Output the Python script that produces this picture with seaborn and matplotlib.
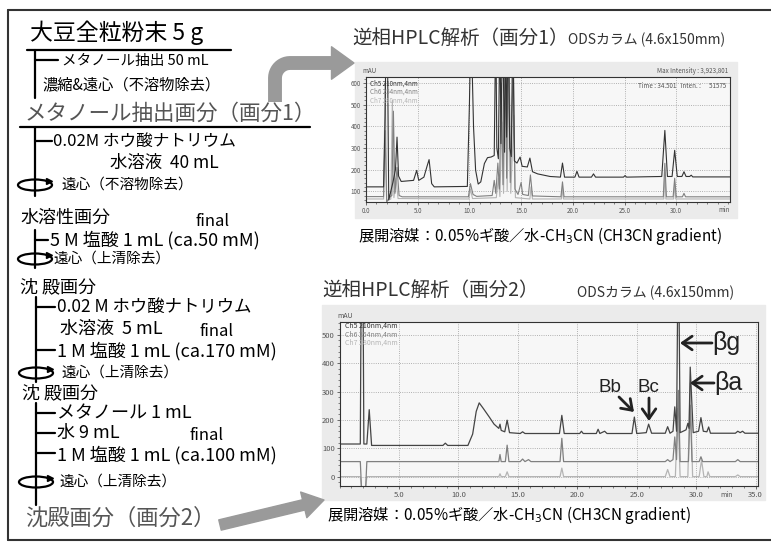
import numpy as np
import matplotlib
matplotlib.use("Agg")
import matplotlib.pyplot as plt
from matplotlib.patches import Rectangle, Ellipse
from matplotlib.ticker import MultipleLocator, FixedLocator, FixedFormatter
import seaborn as sns

# ---- HPLC of fraction 1 : retention time (min) / absorbance (mAU)
top_ch5_t = [0.0, 1.7, 1.85, 1.95, 2.05, 2.2, 2.6, 2.85, 3.0, 3.15, 3.4, 4.6, 4.9, 5.1, 5.6, 5.9, 6.1,
             6.35, 6.6, 9.8, 10.0, 10.15, 10.4, 10.6, 10.85, 11.1, 11.45, 11.75, 12.1, 12.4, 12.55,
             12.65, 12.8, 12.95, 13.05, 13.2, 13.4, 13.5, 13.6, 13.75, 13.9, 14.05, 14.2, 14.35, 14.6,
             14.9, 15.1, 15.6, 15.85, 16.1, 16.6, 17.8, 18.8, 19.0, 19.2, 20.2, 20.4, 20.6, 21.8, 22.0,
             22.2, 24.9, 25.05, 25.2, 28.6, 28.9, 29.15, 29.6, 29.85, 30.1, 30.55, 30.75, 30.95, 31.3,
             31.45, 31.6, 35.2]
top_ch5_y = [120, 120, 450, 900, 900, 60, 140, 200, 350, 170, 145, 150, 196, 150, 165, 215, 246,
             135, 120, 122, 500, 900, 396, 197, 133, 143, 228, 255, 258, 265, 900,
             300, 250, 900, 320, 900, 280, 900, 350, 900, 300, 260, 900, 240, 230,
             258, 215, 212, 253, 190, 180, 168, 165, 230, 165, 165, 192, 165, 165, 180,
             165, 165, 172, 165, 168, 381, 168, 168, 289, 168, 168, 190, 168, 168,
             174, 166, 166]
top_ch6_t = [0.0, 1.7, 1.85, 2.0, 2.3, 2.5, 2.65, 2.8, 3.0, 3.2, 3.5, 9.9, 10.1, 10.35, 10.7, 12.2,
             12.4, 12.55, 12.75, 12.9, 13.1, 13.25, 13.45, 13.6, 13.8, 13.95, 14.25, 14.4, 14.7, 15.0,
             15.15, 15.7, 15.9, 16.1, 18.85, 19.0, 19.15, 28.75, 28.9, 29.05, 29.7, 29.85, 30.0, 30.6,
             30.75, 30.9, 35.2]
top_ch6_y = [75, 75, 380, 50, 72, 80, 470, 90, 210, 80, 74, 74, 135, 85, 76, 80,
             150, 90, 230, 110, 600, 130, 900, 160, 900, 140, 700, 110, 85, 140,
             85, 80, 175, 78, 74, 143, 74, 74, 229, 74, 74, 160, 74, 74,
             90, 74, 74]
top_ch7_t = [0.0, 1.7, 1.85, 2.0, 2.4, 2.55, 2.7, 2.9, 3.1, 9.95, 10.1, 10.3, 12.6, 12.8, 12.95,
             13.15, 13.3, 13.5, 13.65, 13.85, 14.0, 14.3, 14.45, 15.85, 15.95, 16.1, 18.9, 19.0, 19.1,
             28.8, 28.9, 29.0, 29.75, 29.85, 29.95, 35.2]
top_ch7_y = [64, 64, 600, 55, 64, 520, 70, 160, 66, 64, 110, 66, 70, 160, 75,
             420, 90, 650, 100, 700, 90, 450, 70, 64, 120, 64, 64, 115, 64,
             64, 190, 64, 64, 140, 64, 64]

# ---- HPLC of fraction 2
bot_ch5_t = [0.0, 1.75, 1.85, 1.95, 2.05, 2.3, 2.5, 2.7, 8.7, 8.9, 9.1, 10.8, 11.2, 11.5, 11.75,
             12.1, 12.6, 13.0, 13.4, 13.5, 13.6, 13.9, 14.1, 14.3, 15.2, 15.4, 15.6, 18.5, 18.7, 18.9,
             20.2, 20.35, 20.5, 21.6, 21.75, 21.9, 22.3, 22.5, 24.6, 24.8, 25.0, 25.8, 26.0, 26.25,
             27.4, 27.6, 27.8, 28.05, 28.2, 28.35, 28.5, 28.65, 29.15, 29.3, 29.4, 29.5, 29.75, 30.2,
             30.4, 30.6, 30.9, 31.05, 31.2, 33.3, 33.5, 33.7, 33.9, 34.1, 35.2]
bot_ch5_y = [115, 115, 900, 900, 115, 115, 236, 110, 110, 118, 110, 110, 150, 230, 260,
             240, 210, 185, 170, 185, 163, 158, 199, 155, 152, 158, 152, 152, 216, 152,
             152, 160, 152, 152, 167, 152, 160, 152, 152, 210, 152, 155, 185, 153,
             153, 176, 153, 160, 246, 160, 900, 155, 165, 188, 170, 386, 155, 160,
             208, 160, 158, 175, 153, 153, 160, 155, 160, 153, 153]
bot_ch6_t = [0.0, 1.75, 1.85, 2.2, 2.3, 13.4, 13.5, 13.6, 13.95, 14.1, 14.25, 15.2, 15.4, 15.6,
             15.9, 16.1, 18.55, 18.7, 18.85, 27.4, 27.6, 27.8, 28.05, 28.2, 28.35, 28.5, 28.65,
             29.35, 29.5, 29.65, 30.25, 30.4, 30.55, 33.3, 33.5, 33.7, 35.2]
bot_ch6_y = [53, 53, -40, -40, 53, 53, 78, 53, 53, 111, 53, 53, 62, 53,
             60, 53, 53, 135, 53, 53, 60, 53, 60, 140, 60, 304, 53,
             53, 252, 53, 53, 70, 53, 53, 60, 53, 53]
bot_ch7_t = [0.0, 1.75, 1.85, 2.2, 2.3, 13.4, 13.5, 13.6, 13.95, 14.1, 14.25, 18.55, 18.7, 18.85,
             27.4, 27.6, 27.8, 28.25, 28.45, 28.65, 29.3, 29.5, 29.7, 30.25, 30.45, 30.65, 30.9, 31.0,
             31.15, 33.3, 33.5, 33.7, 35.2]
bot_ch7_y = [0, 0, -40, -40, 0, 0, 10, 0, 0, 17, 0, 0, 30, 0,
             0, 25, 0, 0, 240, 0, 0, 330, 0, 0, 58, 0, 0, 17,
             0, 0, 6, 0, 0]

channels = ["Ch5 210nm,4nm", "Ch6 254nm,4nm", "Ch7 280nm,4nm"]
ch_colors = ["#333333", "#808080", "#b4b4b4"]

sns.set_style("white")
plt.rcParams['font.family'] = ['Noto Sans CJK JP', 'DejaVu Sans']

fig = plt.figure(figsize=(7.71, 5.46), dpi=100)

# pixel-coordinate canvas for the flow chart
bg = fig.add_axes([0, 0, 1, 1], label="bg")
bg.set_xlim(0, 771)
bg.set_ylim(546, 0)
bg.axis("off")
bg.set_zorder(0)

# outer frame
bg.plot([8, 8], [10, 540], color="#333", lw=1.5)
bg.plot([8, 771], [10, 10], color="#333", lw=1.5)
bg.plot([8, 771], [540, 540], color="#333", lw=1.5)

# chromatogram panels
bg.add_patch(Rectangle((355, 62), 382, 156, color="#ebebeb", zorder=0))
bg.add_patch(Rectangle((322, 305), 443, 195, color="#ebebeb", zorder=0))


def t(x, y, s, size, color="black", **kw):
    bg.text(x, y, s, fontsize=size, color=color, va="center", ha="left", **kw)


def vline(x, y0, y1):
    bg.plot([x, x], [y0, y1], color="black", lw=1.6)


def branch(x0, x1, y):
    bg.plot([x0, x1], [y, y], color="black", lw=1.6)


def centrifuge(x, y):
    bg.add_patch(Ellipse((x, y), 34, 11, fill=False, lw=1.6, ec="black"))
    bg.plot([x + 14], [y - 4.5], marker=">", ms=5, color="black")


# flow chart
t(30, 33, "大豆全粒粉末 5 g", 16.5)
branch(27, 231, 50)
vline(35, 50, 98)
branch(35, 58, 60)
t(62, 61, "メタノール抽出 50 mL", 10.5)
t(42, 85, "濃縮&遠心（不溶物除去）", 11)
t(25, 114, "メタノール抽出画分（画分1）", 15.5, color="#555")
branch(20, 310, 127)
vline(35, 127, 196)
branch(35, 52, 141)
t(53, 141, "0.02M ホウ酸ナトリウム", 12)
t(110, 163, "水溶液  40 mL", 12.5)
centrifuge(35, 185)
t(62, 185, "遠心（不溶物除去）", 10.5)

t(20, 218, "水溶性画分", 13)
t(195, 221, "final", 12)
vline(35, 230, 268)
branch(35, 48, 240)
t(50, 240, "5 M 塩酸 1 mL (ca.50 mM)", 13)
centrifuge(35, 259)
t(53, 259, "遠心（上清除去）", 10.5)

t(20, 287, "沈 殿画分", 13)
vline(36, 297, 382)
branch(36, 55, 307)
t(57, 307, "0.02 M ホウ酸ナトリウム", 12.5)
t(60, 329, "水溶液  5 mL", 13)
t(200, 331, "final", 12)
branch(36, 55, 350)
t(57, 351, "1 M 塩酸 1 mL (ca.170 mM)", 13)
centrifuge(36, 373)
t(62, 373, "遠心（上清除去）", 10.5)

t(22, 393, "沈 殿画分", 13)
vline(36, 403, 505)
branch(36, 55, 413)
t(57, 413, "メタノール 1 mL", 13)
branch(36, 55, 433)
t(57, 433, "水 9 mL", 13)
t(190, 436, "final", 12)
branch(36, 55, 453)
t(57, 455, "1 M 塩酸 1 mL (ca.100 mM)", 13)
centrifuge(36, 482)
t(60, 482, "遠心（上清除去）", 10.5)
t(25, 518, "沈殿画分（画分2）", 16, color="#555")

# gray arrows to the chromatograms
ang = np.linspace(np.pi, 1.5 * np.pi, 12)
arc_x = 290 + 15 * np.cos(ang)
arc_y = 78 + 15 * np.sin(ang)
bg.plot(np.r_[275, arc_x, 338], np.r_[102, arc_y, 63], color="#9a9a9a", lw=10,
        solid_capstyle="butt", solid_joinstyle="round")
bg.annotate("", xy=(354, 63), xytext=(334, 63),
            arrowprops=dict(arrowstyle="simple,head_width=1.3,head_length=0.9,tail_width=0.2",
                            color="#9a9a9a", mutation_scale=18, shrinkA=0, shrinkB=0))
bg.annotate("", xy=(324, 500), xytext=(220, 525),
            arrowprops=dict(arrowstyle="simple,head_width=0.95,head_length=0.75,tail_width=0.38",
                            color="#9a9a9a", mutation_scale=20, shrinkA=0, shrinkB=0))

# chart titles and captions
t(352, 38, "逆相HPLC解析（画分1）", 14, color="#333")
t(568, 40, "ODSカラム (4.6x150mm)", 10, color="#333")
t(358, 236, r"展開溶媒：0.05%ギ酸／水-CH$_3$CN (CH3CN gradient)", 11)
t(322, 290, "逆相HPLC解析（画分2）", 14, color="#333")
t(577, 293, "ODSカラム (4.6x150mm)", 10, color="#333")
t(327, 515, r"展開溶媒：0.05%ギ酸／水-CH$_3$CN (CH3CN gradient)", 11)


def style_chrom(ax, xlim, ylim):
    ax.set_facecolor("#f7f7f7")
    ax.set_xlim(*xlim)
    ax.set_ylim(*ylim)
    ax.set_xlabel("")
    ax.set_ylabel("")
    ax.grid(True, which="major", ls=":", color="#9a9a9a", lw=0.6)
    ax.tick_params(which="major", labelsize=4.5, length=2.5, width=0.6, colors="#555", pad=1)
    ax.tick_params(which="minor", length=1.5, width=0.5, colors="#555")
    ax.tick_params(axis="both", which="both", bottom=True, left=True)
    for sp in ax.spines.values():
        sp.set_color("#333")
        sp.set_linewidth(0.8)


# chromatogram 1
ax1 = fig.add_axes([366 / 771, 1 - 202 / 546, 364 / 771, 125 / 546])
ax1.set_zorder(2)
for tt, yy, c in [(top_ch7_t, top_ch7_y, ch_colors[2]), (top_ch6_t, top_ch6_y, ch_colors[1]),
                  (top_ch5_t, top_ch5_y, ch_colors[0])]:
    sns.lineplot(x=tt, y=yy, ax=ax1, color=c, lw=0.8, sort=False, estimator=None, legend=False)
style_chrom(ax1, (0, 35.2), (50, 628))
ax1.xaxis.set_major_locator(FixedLocator([0, 5, 10, 15, 20, 25, 30]))
ax1.xaxis.set_major_formatter(FixedFormatter(["0.0", "5.0", "10.0", "15.0", "20.0", "25.0", "30.0"]))
ax1.xaxis.set_minor_locator(MultipleLocator(1))
ax1.yaxis.set_major_locator(FixedLocator([100, 200, 300, 400, 500, 600]))
ax1.yaxis.set_minor_locator(MultipleLocator(20))
ax1.text(34.6, -0.035, "min", transform=ax1.get_xaxis_transform(), fontsize=4.5, color="#555",
         ha="center", va="top")
ax1.text(-0.01, 1.02, "mAU", transform=ax1.transAxes, fontsize=4.5, color="#555", va="bottom")
ax1.text(0.995, 1.02, "Max Intensity : 3,923,801", transform=ax1.transAxes, fontsize=4.5,
         color="#555", ha="right", va="bottom")
ax1.text(0.99, 0.93, "Time : 34.501   Inten. :      51575", transform=ax1.transAxes, fontsize=4.5,
         color="#555", ha="right", va="center")
for i, (lab, c) in enumerate(zip(channels, ch_colors)):
    ax1.text(0.01, 0.95 - i * 0.07, lab, transform=ax1.transAxes, fontsize=4.5, color=c, va="center")

# chromatogram 2
ax2 = fig.add_axes([339.5 / 771, 1 - 486 / 546, 418.5 / 771, 164 / 546])
ax2.set_zorder(2)
for tt, yy, c in [(bot_ch7_t, bot_ch7_y, ch_colors[2]), (bot_ch6_t, bot_ch6_y, ch_colors[1]),
                  (bot_ch5_t, bot_ch5_y, "#444444")]:
    sns.lineplot(x=tt, y=yy, ax=ax2, color=c, lw=0.9, sort=False, estimator=None, legend=False)
style_chrom(ax2, (0, 35.2), (-33, 545))
ax2.xaxis.set_major_locator(FixedLocator([5, 10, 15, 20, 25, 30, 35]))
ax2.xaxis.set_major_formatter(FixedFormatter(["5.0", "10.0", "15.0", "20.0", "25.0", "30.0", "35.0"]))
ax2.xaxis.set_minor_locator(MultipleLocator(1))
ax2.yaxis.set_major_locator(FixedLocator([0, 100, 200, 300, 400, 500]))
ax2.yaxis.set_minor_locator(MultipleLocator(20))
ax2.tick_params(which="major", labelsize=5.5)
ax2.text(32.6, -0.03, "min", transform=ax2.get_xaxis_transform(), fontsize=5, color="#555",
         ha="center", va="top")
ax2.text(-0.005, 1.01, "mAU", transform=ax2.transAxes, fontsize=5, color="#555", va="bottom")
for i, (lab, c) in enumerate(zip(channels, ch_colors)):
    ax2.text(0.012, 0.975 - i * 0.05, lab, transform=ax2.transAxes, fontsize=5, color=c, va="center")

# overlay for peak labels
ov = fig.add_axes([0, 0, 1, 1], label="ov")
ov.set_xlim(0, 771)
ov.set_ylim(546, 0)
ov.axis("off")
ov.set_zorder(5)
arrow_kw = dict(arrowstyle="->,head_length=0.5,head_width=0.35", lw=2, color="#222",
                shrinkA=0, shrinkB=0, mutation_scale=14)
ov.annotate("", xy=(680, 343), xytext=(712, 343), arrowprops=arrow_kw)
ov.text(712, 343, "βg", fontsize=18, family="Liberation Sans", va="center", ha="left", color="#222")
ov.annotate("", xy=(690, 383), xytext=(714, 383), arrowprops=arrow_kw)
ov.text(714, 383, "βa", fontsize=18, family="Liberation Sans", va="center", ha="left", color="#222")
ov.text(610, 387, "Bb", fontsize=13.5, family="Liberation Sans", va="center", ha="center", color="#222")
ov.text(648, 387, "Bc", fontsize=13.5, family="Liberation Sans", va="center", ha="center", color="#222")
ov.annotate("", xy=(634, 412), xytext=(619, 397), arrowprops=arrow_kw)
ov.annotate("", xy=(649, 421), xytext=(649, 398), arrowprops=arrow_kw)

fig.savefig("out.png", dpi=100)
